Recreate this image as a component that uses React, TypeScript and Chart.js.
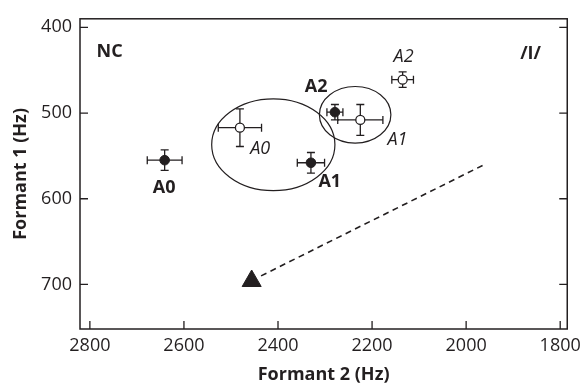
import { useEffect, useRef } from 'react';
import { Chart, registerables } from 'chart.js';
Chart.register(...registerables);

// ---- data ----
const vowels = ['A0', 'A1', 'A2'];
const f2Filled = [2641, 2330, 2279];
const f1Filled = [555, 558, 499];
const f2ErrFilled = [37, 29, 17];
const f1ErrFilled = [12, 12, 9];
const f2Open = [2481, 2225, 2135];
const f1Open = [517, 508, 461];
const f2ErrOpen = [46, 48, 23];
const f1ErrOpen = [22, 18, 9];

const ellipseF2 = [2410, 2236];
const ellipseF1 = [537, 502];
const ellipseRF2 = [131, 76];
const ellipseRF1 = [53.5, 33];

const targetF2 = [2456];
const targetF1 = [696];
const arrowF2 = [2436, 1961];
const arrowF1 = [690, 560];

const xTicks = [2800, 2600, 2400, 2200, 2000, 1800];
const yTicks = [400, 500, 600, 700];

const labelTexts = ['NC', '/I/', 'A0', 'A1', 'A2', 'A0', 'A1', 'A2'];
const labelF2 = [2758, 1863, 2642, 2290, 2319, 2438, 2146, 2133];
const labelF1 = [429, 431, 587, 580, 469, 542, 531, 435];
const labelItalic = [false, false, false, false, false, true, true, true];

const INK = '#231f20';
const FONT = "'Open Sans', sans-serif";

const errorBarPlugin = {
  id: 'errorBars',
  beforeDatasetsDraw(chart: any) {
    const { ctx, scales, chartArea } = chart;
    const xs = scales.x, ys = scales.y;
    ctx.save();
    ctx.beginPath();
    ctx.rect(chartArea.left, chartArea.top, chartArea.right - chartArea.left, chartArea.bottom - chartArea.top);
    ctx.clip();
    // ellipses
    ctx.strokeStyle = INK;
    ctx.lineWidth = 1.2;
    for (let i = 0; i < ellipseF2.length; i++) {
      const cx = xs.getPixelForValue(ellipseF2[i]);
      const cy = ys.getPixelForValue(ellipseF1[i]);
      const rx = Math.abs(xs.getPixelForValue(ellipseF2[i] + ellipseRF2[i]) - cx);
      const ry = Math.abs(ys.getPixelForValue(ellipseF1[i] + ellipseRF1[i]) - cy);
      ctx.beginPath();
      ctx.ellipse(cx, cy, rx, ry, 0, 0, Math.PI * 2);
      ctx.stroke();
    }
    // error bars
    const cap = 4;
    ctx.lineWidth = 1.3;
    const draw = (f2: number[], f1: number[], e2: number[], e1: number[]) => {
      for (let i = 0; i < f2.length; i++) {
        const x = xs.getPixelForValue(f2[i]);
        const y = ys.getPixelForValue(f1[i]);
        const xl = xs.getPixelForValue(f2[i] + e2[i]);
        const xr = xs.getPixelForValue(f2[i] - e2[i]);
        const yt = ys.getPixelForValue(f1[i] - e1[i]);
        const yb = ys.getPixelForValue(f1[i] + e1[i]);
        ctx.beginPath();
        ctx.moveTo(xl, y); ctx.lineTo(xr, y);
        ctx.moveTo(xl, y - cap); ctx.lineTo(xl, y + cap);
        ctx.moveTo(xr, y - cap); ctx.lineTo(xr, y + cap);
        ctx.moveTo(x, yt); ctx.lineTo(x, yb);
        ctx.moveTo(x - cap, yt); ctx.lineTo(x + cap, yt);
        ctx.moveTo(x - cap, yb); ctx.lineTo(x + cap, yb);
        ctx.stroke();
      }
    };
    draw(f2Filled, f1Filled, f2ErrFilled, f1ErrFilled);
    draw(f2Open, f1Open, f2ErrOpen, f1ErrOpen);
    ctx.restore();
  },
  afterDraw(chart: any) {
    const { ctx, scales, chartArea } = chart;
    const xs = scales.x, ys = scales.y;
    ctx.save();
    // frame
    ctx.strokeStyle = INK;
    ctx.lineWidth = 1.5;
    ctx.strokeRect(chartArea.left, chartArea.top, chartArea.right - chartArea.left, chartArea.bottom - chartArea.top);
    // inside ticks
    const tl = 8;
    ctx.lineWidth = 1.3;
    ctx.beginPath();
    for (const v of yTicks) {
      const y = ys.getPixelForValue(v);
      ctx.moveTo(chartArea.left, y); ctx.lineTo(chartArea.left + tl, y);
      ctx.moveTo(chartArea.right, y); ctx.lineTo(chartArea.right - tl, y);
    }
    for (const v of xTicks) {
      const x = xs.getPixelForValue(v);
      ctx.moveTo(x, chartArea.bottom); ctx.lineTo(x, chartArea.bottom - tl);
    }
    ctx.stroke();
    // labels
    ctx.fillStyle = INK;
    ctx.textAlign = 'center';
    ctx.textBaseline = 'middle';
    for (let i = 0; i < labelTexts.length; i++) {
      ctx.font = labelItalic[i] ? `italic 18px ${FONT}` : `bold 18px ${FONT}`;
      ctx.fillText(labelTexts[i], xs.getPixelForValue(labelF2[i]), ys.getPixelForValue(labelF1[i]));
    }
    ctx.restore();
  },
};

export default function App() {
  const ref = useRef<HTMLCanvasElement>(null);
  useEffect(() => {
    document.body.style.margin = '0';
    const chart = new Chart(ref.current!, {
      type: 'scatter',
      data: {
        datasets: [
          {
            type: 'line',
            label: 'shift',
            data: arrowF2.map((x, i) => ({ x, y: arrowF1[i] })),
            borderColor: INK,
            borderWidth: 1.6,
            borderDash: [6, 4.5],
            pointRadius: 0,
            fill: false,
          } as any,
          {
            label: 'target',
            data: targetF2.map((x, i) => ({ x, y: targetF1[i] })),
            pointStyle: 'triangle',
            pointRadius: 11,
            backgroundColor: INK,
            borderColor: INK,
            borderWidth: 1,
          },
          {
            label: 'open',
            data: f2Open.map((x, i) => ({ x, y: f1Open[i], v: vowels[i] })),
            pointRadius: 4.5,
            backgroundColor: '#ffffff',
            borderColor: INK,
            borderWidth: 1.3,
          },
          {
            label: 'filled',
            data: f2Filled.map((x, i) => ({ x, y: f1Filled[i], v: vowels[i] })),
            pointRadius: 4.8,
            backgroundColor: INK,
            borderColor: INK,
            borderWidth: 1,
          },
        ],
      },
      options: {
        animation: false,
        responsive: false,
        layout: { padding: { top: 14, right: 15, left: 0, bottom: 0 } },
        plugins: { legend: { display: false }, tooltip: { enabled: false } },
        scales: {
          x: {
            type: 'linear',
            reverse: true,
            min: 1785,
            max: 2821,
            afterBuildTicks: (s: any) => { s.ticks = xTicks.map((v) => ({ value: v })); },
            afterFit: (s: any) => { s.height = 57; },
            grid: { display: false, drawTicks: false },
            border: { display: false },
            ticks: { color: INK, font: { family: FONT, size: 18 }, padding: 6, maxRotation: 0, callback: (v: any) => String(v) },
            title: { display: true, text: 'Formant 2 (Hz)', color: INK, font: { family: FONT, size: 18, weight: 'bold' }, padding: { top: 0, bottom: 0 } },
          },
          y: {
            type: 'linear',
            reverse: true,
            min: 390,
            max: 752,
            afterBuildTicks: (s: any) => { s.ticks = yTicks.map((v) => ({ value: v })); },
            afterFit: (s: any) => { s.width = 80; },
            grid: { display: false, drawTicks: false },
            border: { display: false },
            ticks: { color: INK, font: { family: FONT, size: 18 }, padding: 8, callback: (v: any) => String(v) },
            title: { display: true, text: 'Formant 1 (Hz)', color: INK, font: { family: FONT, size: 18, weight: 'bold' }, padding: { top: 10, bottom: 0 } },
          },
        },
      },
      plugins: [errorBarPlugin],
    } as any);
    return () => chart.destroy();
  }, []);
  return (
    <div style={{ position: 'absolute', left: 0, top: 0, width: 587, height: 386 }}>
      <canvas ref={ref} width={587} height={386} style={{ width: 587, height: 386 }} />
    </div>
  );
}
